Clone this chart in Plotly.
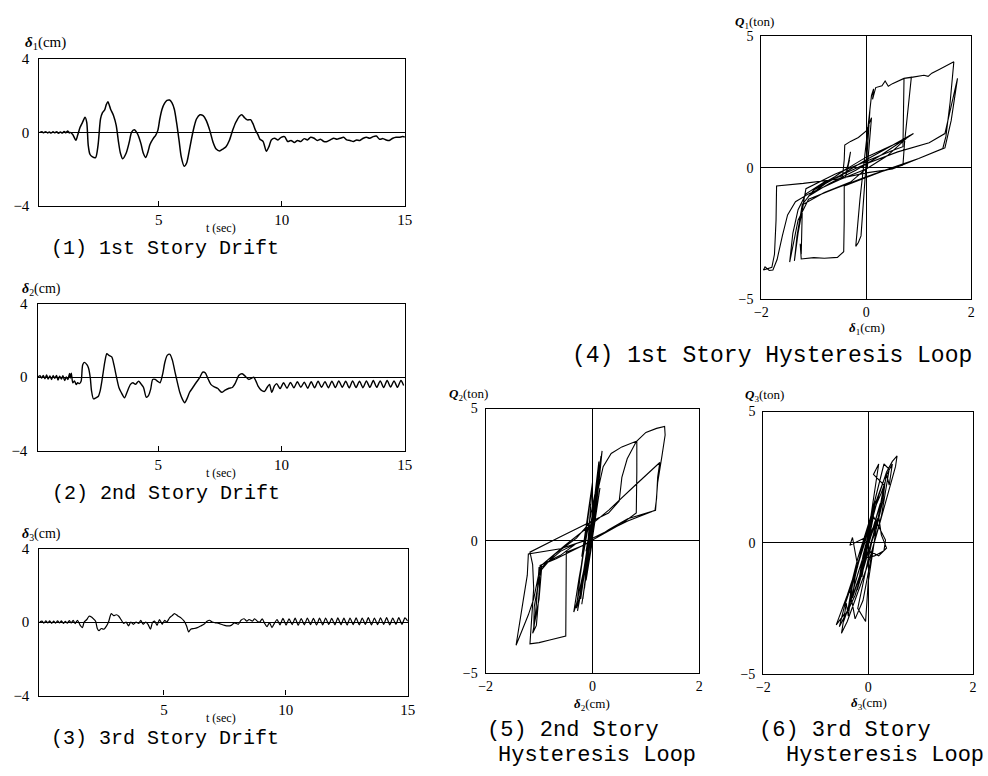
import plotly.graph_objects as go

# ---------------- data: story drift time histories ----------------
t1 = [0.15,0.25,0.32,0.4,0.48,0.55,0.62,0.7,0.78,0.85,0.92,1.0,1.08,1.15,1.22,1.3,1.36,1.4,1.5,1.63,1.7,1.8,1.89,2.0,2.07,2.13,2.2,2.29,2.43,2.53,2.63,2.71,2.8,2.87,2.93,3.04,3.16,3.27,3.36,3.44,3.53,3.67,3.8,3.89,4.0,4.13,4.27,4.37,4.47,4.56,4.64,4.77,4.87,4.96,5.04,5.13,5.23,5.33,5.44,5.53,5.63,5.73,5.83,5.91,6.03,6.13,6.23,6.33,6.43,6.53,6.67,6.8,6.93,7.07,7.2,7.33,7.47,7.6,7.73,7.87,8.0,8.13,8.27,8.37,8.47,8.6,8.73,8.83,8.93,9.04,9.11,9.24,9.37,9.48,9.57,9.71,9.84,9.97,10.11,10.24,10.37,10.51,10.64,10.77,10.91,11.04,11.17,11.31,11.44,11.57,11.71,11.84,11.97,12.11,12.24,12.37,12.51,12.64,12.77,12.91,13.04,13.17,13.31,13.44,13.57,13.71,13.84,13.97,14.11,14.24,14.37,14.51,14.64,14.77,14.91,15.0]
d1 = [0.0,0.03,-0.02,0.04,-0.03,0.02,-0.04,0.03,-0.02,0.04,-0.05,0.02,-0.04,0.05,-0.02,0.08,-0.03,0.0,-0.12,-0.43,-0.16,0.28,0.52,0.82,0.55,-0.69,-1.19,-1.32,-1.37,-0.69,0.73,1.08,1.23,1.53,1.67,1.26,0.91,0.37,-0.52,-1.14,-1.44,-1.14,-0.52,0.0,0.14,-0.07,-0.6,-1.14,-1.37,-1.05,-0.66,-0.34,-0.16,0.11,0.73,1.26,1.58,1.74,1.76,1.62,1.26,0.46,-0.52,-1.32,-1.85,-1.67,-1.05,-0.34,0.28,0.73,0.96,0.91,0.64,0.11,-0.52,-0.91,-1.01,-0.91,-0.78,-0.43,0.11,0.55,0.87,0.96,0.82,0.68,0.69,0.46,0.11,-0.16,-0.37,-0.5,-1.03,-0.76,-0.41,-0.32,-0.41,-0.27,-0.23,-0.5,-0.44,-0.55,-0.44,-0.5,-0.34,-0.41,-0.27,-0.32,-0.44,-0.37,-0.5,-0.5,-0.41,-0.32,-0.37,-0.32,-0.27,-0.41,-0.44,-0.5,-0.41,-0.44,-0.32,-0.27,-0.32,-0.23,-0.2,-0.37,-0.34,-0.41,-0.44,-0.32,-0.27,-0.27,-0.23,-0.25]

t2 = [0.1,0.2,0.27,0.33,0.4,0.47,0.53,0.6,0.67,0.73,0.8,0.87,0.93,1.0,1.07,1.13,1.2,1.27,1.33,1.4,1.43,1.47,1.53,1.6,1.67,1.73,1.8,1.87,1.93,2.0,2.11,2.17,2.24,2.29,2.37,2.47,2.56,2.64,2.73,2.83,2.91,3.0,3.11,3.2,3.31,3.4,3.49,3.63,3.73,3.87,3.97,4.07,4.2,4.29,4.4,4.51,4.6,4.69,4.77,4.87,4.96,5.07,5.17,5.27,5.36,5.47,5.57,5.67,5.76,5.87,5.97,6.07,6.16,6.27,6.4,6.53,6.67,6.8,6.91,7.0,7.13,7.27,7.4,7.57,7.71,7.87,8.0,8.13,8.27,8.4,8.53,8.67,8.8,8.87,8.96,9.04,9.17,9.31,9.41,9.51,9.6,9.71,9.8,9.94,10.08,10.22,10.36,10.5,10.64,10.78,10.92,11.06,11.2,11.34,11.48,11.62,11.76,11.9,12.04,12.18,12.32,12.46,12.6,12.74,12.88,13.02,13.16,13.3,13.44,13.58,13.72,13.86,14.0,14.14,14.28,14.42,14.56,14.7,14.84,14.95]
d2 = [0.0,0.08,-0.05,0.1,-0.08,0.12,-0.1,0.07,-0.12,0.09,-0.06,0.1,-0.15,0.05,-0.1,0.08,-0.18,0.02,-0.12,0.2,-0.05,0.22,-0.3,-0.2,-0.4,-0.3,-0.35,-0.2,0.67,0.81,0.67,0.49,-0.04,-0.74,-1.18,-1.12,-1.05,-0.74,-0.04,0.84,1.28,1.19,1.11,0.67,-0.04,-0.56,-0.82,-1.12,-0.82,-0.39,-0.3,-0.39,-0.21,-0.35,-0.56,-1.09,-1.0,-0.65,-0.12,-0.12,-0.21,-0.3,0.14,0.84,1.19,1.25,0.93,0.32,-0.21,-0.82,-1.18,-1.39,-1.18,-0.82,-0.56,-0.3,-0.04,0.28,0.23,-0.04,-0.39,-0.53,-0.6,-0.82,-0.7,-0.6,-0.56,-0.3,0.11,0.19,0.05,-0.12,-0.04,0.0,-0.21,-0.47,-0.7,-0.77,-0.56,-0.39,-0.82,-0.47,-0.35,-0.62,-0.3,-0.6,-0.28,-0.58,-0.25,-0.55,-0.27,-0.6,-0.25,-0.58,-0.22,-0.55,-0.24,-0.57,-0.22,-0.56,-0.2,-0.55,-0.22,-0.58,-0.2,-0.56,-0.22,-0.57,-0.2,-0.55,-0.18,-0.55,-0.2,-0.56,-0.18,-0.54,-0.2,-0.55,-0.18,-0.45]

t3 = [-0.1,0.0,0.08,0.16,0.24,0.32,0.4,0.48,0.56,0.64,0.72,0.8,0.88,0.96,1.04,1.12,1.2,1.28,1.36,1.46,1.57,1.66,1.73,1.84,1.93,2.03,2.11,2.2,2.27,2.34,2.43,2.54,2.65,2.74,2.84,2.94,3.05,3.15,3.24,3.35,3.45,3.55,3.64,3.75,3.86,3.97,4.05,4.15,4.26,4.35,4.45,4.53,4.62,4.72,4.82,4.93,5.03,5.12,5.23,5.34,5.43,5.56,5.7,5.83,5.93,6.01,6.1,6.24,6.37,6.51,6.64,6.77,6.87,6.98,7.11,7.25,7.35,7.49,7.62,7.76,7.89,8.05,8.16,8.29,8.4,8.49,8.63,8.72,8.83,8.93,9.03,9.13,9.23,9.33,9.43,9.53,9.64,9.76,9.88,10.01,10.13,10.26,10.38,10.51,10.63,10.76,10.88,11.01,11.13,11.26,11.38,11.51,11.63,11.76,11.88,12.01,12.13,12.26,12.38,12.51,12.63,12.76,12.88,13.01,13.13,13.26,13.38,13.51,13.63,13.76,13.88,14.01,14.13,14.26,14.38,14.51,14.63,14.76,14.88,15.0]
d3 = [0.0,0.05,-0.06,0.07,-0.05,0.06,-0.07,0.05,-0.06,0.07,-0.05,0.06,-0.07,0.04,-0.06,0.08,-0.05,0.1,-0.08,0.1,-0.18,-0.3,0.0,0.14,0.32,0.28,0.18,0.05,-0.35,-0.47,-0.35,-0.39,-0.21,0.05,0.46,0.35,0.4,0.32,0.14,-0.07,0.0,-0.21,0.0,-0.12,0.0,-0.07,0.1,-0.12,0.0,-0.12,-0.39,-0.03,0.05,-0.18,0.14,-0.12,0.1,0.0,0.23,0.35,0.46,0.35,0.23,0.05,-0.21,-0.53,-0.39,-0.35,-0.3,-0.21,-0.12,0.05,0.1,0.0,-0.04,-0.07,-0.12,-0.18,-0.21,-0.18,-0.04,-0.12,0.1,0.18,0.05,0.14,0.05,0.18,0.05,0.0,0.18,-0.07,-0.25,-0.03,-0.3,-0.07,0.14,-0.15,0.2,-0.16,0.18,-0.14,0.21,-0.17,0.19,-0.15,0.22,-0.14,0.2,-0.16,0.21,-0.15,0.22,-0.13,0.2,-0.15,0.23,-0.14,0.21,-0.16,0.22,-0.14,0.23,-0.15,0.22,-0.13,0.24,-0.15,0.22,-0.14,0.23,-0.13,0.24,-0.15,0.22,-0.12,0.24,-0.13,0.23,0.05]

# ---------------- data: hysteresis loops (delta [cm], Q [ton]) ----------------
delta1 = [0.0,0.02,-0.02,0.03,-0.03,0.05,-0.06,0.06,-0.04,0.04,-0.08,0.07,-0.1,-0.15,-0.2,-0.12,-0.02,0.06,0.1,0.14,0.12,0.18,0.3,0.36,0.42,0.5,0.6,0.72,0.86,
          0.8,0.73,0.7,0.3,-0.1,-0.42,-0.42,-0.43,-0.55,-0.8,-1.0,-1.24,-1.26,-1.24,
          -1.22,-1.15,-0.6,0.0,0.5,0.7,0.71,0.72,0.89,1.0,1.1,1.18,1.25,1.4,1.55,1.67,
          1.6,1.52,1.46,1.0,0.5,0.0,-0.6,-1.1,-1.3,-1.4,-1.46,
          -1.4,-1.3,-1.15,-0.8,-0.45,-0.42,-0.41,-0.3,-0.15,0.0,0.1,
          0.06,0.02,-0.3,-0.8,-1.2,-1.3,-1.37,
          -1.32,-1.22,-1.0,-0.5,0.0,0.6,1.2,1.5,1.6,1.7,1.74,
          1.62,1.5,1.0,0.5,0.0,-0.6,-1.2,-1.71,-1.72,-1.75,-1.8,-1.9,-1.96,-1.93,-1.85,-1.78,
          -1.7,-1.6,-1.5,-1.35,-1.1,-0.5,0.0,0.4,0.83,
          0.6,0.0,-0.5,-1.11,-0.7,-0.2,0.3,0.9,0.5,0.0,-0.5,-1.0,
          -0.6,-0.35,-0.3,-0.4,-0.32,-0.38]
Q1 = [0.0,0.6,-0.5,0.9,-0.8,1.6,-1.7,2.0,-1.0,1.3,-2.4,2.2,-2.6,-2.85,-3.0,-1.2,0.6,2.0,2.75,3.0,2.6,3.05,3.12,3.3,3.1,3.2,3.3,3.4,3.45,
      2.3,0.95,0.1,-0.15,-0.45,-0.7,-2.0,-3.2,-3.42,-3.45,-3.43,-3.48,-2.9,-3.3,
      -1.6,-0.8,-0.25,0.25,0.65,0.8,2.0,3.4,3.45,3.5,3.52,3.48,3.6,3.75,3.92,4.03,
      2.5,1.2,0.73,0.35,0.0,-0.35,-0.8,-1.2,-2.0,-3.0,-3.6,
      -2.5,-1.6,-1.0,-0.55,-0.3,0.3,0.86,1.0,1.15,1.4,1.9,
      0.8,0.0,-0.55,-0.95,-1.4,-2.5,-3.55,
      -2.6,-1.4,-0.85,-0.3,0.15,0.6,0.95,1.3,2.2,3.0,3.4,
      1.8,0.75,0.35,-0.05,-0.2,-0.45,-0.6,-0.7,-2.0,-3.3,-3.8,-3.85,-3.9,-3.78,-3.92,-3.9,
      -3.5,-2.6,-1.8,-1.3,-1.0,-0.45,-0.05,0.45,1.23,
      0.95,0.4,-0.2,-1.1,-0.6,-0.1,0.5,1.3,0.85,0.3,-0.3,-0.8,
      -0.35,0.0,0.6,-0.4,0.3,-0.1]

delta2 = [0.0,0.05,-0.08,0.1,-0.12,0.14,-0.2,0.06,-0.28,0.12,-0.22,0.16,-0.1,
          0.0,0.1,0.2,0.35,0.55,0.75,0.83,
          0.83,0.82,0.55,0.2,-0.2,-0.49,-0.49,-0.5,-0.8,-1.0,-1.17,
          -1.14,-1.1,-1.12,-1.17,-0.6,-0.06,0.3,0.5,0.55,0.65,0.82,1.0,1.2,1.35,
          1.36,1.3,1.22,1.18,0.66,0.31,-0.06,-0.68,-0.98,-1.0,-1.05,-1.12,
          -1.0,-0.95,-0.6,-0.3,-0.6,-0.95,-1.09,-1.1,
          -1.05,-1.0,-0.5,0.0,0.31,0.8,1.26,
          1.22,1.2,1.17,0.66,0.0,-0.6,-1.2,-1.22,-1.3,-1.35,-1.38,-1.43,
          -1.3,-1.2,-1.1,-1.0,-0.7,-0.3,0.0,0.1,0.16,0.18,
          0.1,0.0,-0.15,-0.3,-0.35,-0.25,-0.1,0.05,0.12,0.05,-0.1,-0.2,-0.3,
          -0.2,-0.1,-0.25,-0.08,-0.22,-0.05,-0.2,0.0,-0.15,0.1,-0.18,0.05,-0.12]
Q2 = [0.0,0.7,-1.0,1.5,-1.5,2.0,-2.4,1.0,-2.65,2.6,-2.2,3.2,-0.6,
      0.6,1.9,2.8,3.3,3.55,3.7,3.77,
      2.6,1.05,0.65,0.25,-0.2,-0.43,-2.0,-3.6,-3.75,-3.85,-3.9,
      -3.0,-1.8,-0.9,-0.43,0.15,0.68,1.05,1.5,2.4,3.1,3.75,4.1,4.25,4.32,
      4.0,3.2,2.2,1.15,0.83,0.43,-0.06,-0.68,-0.93,-2.0,-3.2,-3.5,
      -2.2,-1.0,-0.4,-0.1,-0.55,-0.9,-2.5,-3.4,
      -2.4,-1.0,-0.15,0.65,1.17,2.1,2.96,
      2.4,1.6,1.15,0.75,0.1,-0.3,-0.5,-1.3,-2.3,-3.0,-3.4,-3.95,
      -3.3,-2.8,-2.2,-1.2,-0.5,0.1,0.8,2.0,3.1,3.4,
      1.8,0.3,-1.0,-2.4,-2.7,-1.4,0.3,1.8,3.0,1.2,-0.5,-1.8,-2.55,
      -0.8,0.5,-1.6,0.9,-1.2,1.4,-0.6,2.2,-1.8,2.6,-2.2,1.6,-0.4]

delta3 = [0.0,0.04,-0.04,0.07,-0.06,0.09,-0.08,0.1,-0.1,0.06,
          -0.15,-0.3,-0.25,-0.1,0.1,0.25,0.32,0.28,
          0.15,-0.1,-0.3,-0.47,-0.42,-0.38,
          -0.3,-0.1,0.1,0.3,0.46,0.4,0.35,
          0.2,0.0,-0.21,-0.1,0.05,-0.12,0.1,-0.07,
          -0.25,-0.39,-0.3,-0.05,0.14,-0.12,0.1,
          0.0,0.2,0.35,0.46,0.55,0.52,
          0.4,0.2,0.0,-0.25,-0.4,-0.51,-0.45,-0.61,
          -0.4,-0.2,0.0,0.1,0.33,0.3,0.12,-0.1,0.15,
          -0.2,-0.05,0.0,0.15,0.3,0.1,0.2,0.05,-0.2,-0.35,-0.25,-0.1,0.1,0.25,0.4,0.3,0.15,-0.05,-0.35,-0.3,-0.2,-0.45,-0.55,-0.4,-0.2,0.05,0.2,0.25,0.35,0.2,0.0,
          -0.15,0.22,-0.14,0.2,-0.16,0.23,-0.13,0.21,-0.15,0.0]
Q3 = [0.0,0.4,-0.3,0.7,-0.6,0.9,-0.7,1.0,-0.9,0.5,
      -1.2,-2.1,-1.3,0.0,1.2,1.9,2.3,1.6,
      0.5,-0.9,-2.0,-3.0,-2.3,-2.8,
      -1.6,-0.2,1.3,2.4,3.0,2.2,2.6,
      1.0,-0.4,-1.8,-0.5,0.7,-1.3,1.3,-0.8,
      -2.0,-2.6,-1.5,0.1,1.6,-1.0,1.5,
      0.3,1.8,2.7,3.1,3.31,2.9,
      2.0,0.6,-0.8,-2.2,-3.0,-3.45,-2.7,-3.13,
      -2.0,-0.8,0.5,1.0,0.1,-0.3,-0.5,-0.6,0.8,
      -2.5,-3.0,-1.5,0.5,2.2,2.6,3.0,1.0,-0.6,-1.8,-2.9,-2.2,-0.1,1.0,2.8,3.0,1.8,0.2,-0.1,0.2,-0.9,-2.4,-3.2,-2.6,-1.2,0.4,1.0,0.3,-0.2,-0.5,-0.3,
      -1.1,1.4,-1.0,1.2,-1.2,1.5,-0.9,1.3,-1.1,0.0]

# ---------------- layout helpers (pixel geometry of the 988x776 page) ----------------
W, H = 988, 776
def fx(p): return p / W
def fy(p): return 1 - p / H

SERIF = "Liberation Serif"
MONO = "Liberation Mono"

fig = go.Figure()

fig.add_trace(go.Scatter(x=t1, y=d1, mode="lines", line=dict(color="black", width=1.5, shape="spline", smoothing=0.7), xaxis="x", yaxis="y", showlegend=False))
fig.add_trace(go.Scatter(x=t2, y=d2, mode="lines", line=dict(color="black", width=1.4, shape="spline", smoothing=0.7), xaxis="x2", yaxis="y2", showlegend=False))
fig.add_trace(go.Scatter(x=t3, y=d3, mode="lines", line=dict(color="black", width=1.2, shape="spline", smoothing=0.6), xaxis="x3", yaxis="y3", showlegend=False))
fig.add_trace(go.Scatter(x=delta1, y=Q1, mode="lines", line=dict(color="black", width=1.1), xaxis="x4", yaxis="y4", showlegend=False))
fig.add_trace(go.Scatter(x=delta2, y=Q2, mode="lines", line=dict(color="black", width=1.1), xaxis="x5", yaxis="y5", showlegend=False))
fig.add_trace(go.Scatter(x=delta3, y=Q3, mode="lines", line=dict(color="black", width=1.1), xaxis="x6", yaxis="y6", showlegend=False))

def time_axes(xdom, ydom, xr, anchor_x, anchor_y):
    xa = dict(domain=[fx(xdom[0]), fx(xdom[1])], range=xr, anchor=anchor_y,
              showline=True, mirror=True, linecolor="black", linewidth=1.3,
              showgrid=False, zeroline=False,
              tickmode="array", tickvals=[5, 10, 15], ticktext=["5", "10", "15"],
              ticks="inside", ticklen=5, tickcolor="black",
              tickfont=dict(family=SERIF, size=15, color="black"))
    ya = dict(domain=[fy(ydom[1]), fy(ydom[0])], range=[-4, 4], anchor=anchor_x,
              showline=True, mirror=True, linecolor="black", linewidth=1.3,
              showgrid=False, zeroline=True, zerolinecolor="black", zerolinewidth=1,
              tickmode="array", tickvals=[-4, 0, 4], ticktext=["\u22124", "0", "4"],
              ticks="", ticklen=0, ticklabelstandoff=6,
              tickfont=dict(family=SERIF, size=15, color="black"))
    return xa, ya

def hyst_axes(xdom, ydom, anchor_x, anchor_y):
    xa = dict(domain=[fx(xdom[0]), fx(xdom[1])], range=[-2, 2], anchor=anchor_y,
              showline=True, mirror=True, linecolor="black", linewidth=1.3,
              showgrid=False, zeroline=True, zerolinecolor="black", zerolinewidth=1,
              tickmode="array", tickvals=[-2, 0, 2], ticktext=["\u22122", "0", "2"],
              ticks="", tickfont=dict(family=SERIF, size=14, color="black"))
    ya = dict(domain=[fy(ydom[1]), fy(ydom[0])], range=[-5, 5], anchor=anchor_x,
              showline=True, mirror=True, linecolor="black", linewidth=1.3,
              showgrid=False, zeroline=True, zerolinecolor="black", zerolinewidth=1,
              tickmode="array", tickvals=[-5, 0, 5], ticktext=["\u22125", "0", "5"],
              ticks="", ticklabelstandoff=4,
              tickfont=dict(family=SERIF, size=14, color="black"))
    return xa, ya

x1, y1 = time_axes((33, 404), (52, 202), [0.15, 15], "x", "y")
x2, y2 = time_axes((31, 404), (302, 452), [0.1, 15], "x2", "y2")
x3, y3 = time_axes((33, 407), (552, 702), [-0.1, 15], "x3", "y3")
x4, y4 = hyst_axes((766, 979), (29, 297), "x4", "y4")
x5, y5 = hyst_axes((486, 703), (409, 679), "x5", "y5")
x6, y6 = hyst_axes((768, 981), (412, 680), "x6", "y6")

ann = []
def txt(text, x, y, size, family=SERIF, xanchor="center"):
    ann.append(dict(text=text, x=fx(x), y=fy(y), xref="paper", yref="paper",
                    showarrow=False, xanchor=xanchor, yanchor="middle",
                    font=dict(family=family, size=size, color="black")))

# axis titles
txt("<b><i>δ</i></b><sub>1</sub>(cm)", 16, 36, 15, xanchor="left")
txt("<b><i>δ</i></b><sub>2</sub>(cm)", 13, 287, 14, xanchor="left")
txt("<b><i>δ</i></b><sub>3</sub>(cm)", 13, 538, 14, xanchor="left")
txt("t (sec)", 217, 225, 12)
txt("t (sec)", 217, 475, 12)
txt("t (sec)", 217, 725, 12)
txt("<b><i>Q</i></b><sub>1</sub>(ton)", 737, 15, 13, xanchor="left")
txt("<b><i>Q</i></b><sub>2</sub>(ton)", 447, 395, 13, xanchor="left")
txt("<b><i>Q</i></b><sub>3</sub>(ton)", 747, 396, 13, xanchor="left")
txt("<b><i>δ</i></b><sub>1</sub>(cm)", 873, 327, 13)
txt("<b><i>δ</i></b><sub>2</sub>(cm)", 594, 711, 13)
txt("<b><i>δ</i></b><sub>3</sub>(cm)", 875, 710, 13)

# panel captions
txt("(1) 1st Story Drift", 160, 246, 20, family=MONO)
txt("(2) 2nd Story Drift", 161, 496, 20, family=MONO)
txt("(3) 3rd Story Drift", 160, 746, 20, family=MONO)
txt("(4) 1st Story Hysteresis Loop", 777, 355, 23, family=MONO)
txt("(5) 2nd Story", 485, 738, 22, family=MONO, xanchor="left")
txt("Hysteresis Loop", 497, 763, 22, family=MONO, xanchor="left")
txt("(6) 3rd Story", 762, 738, 22, family=MONO, xanchor="left")
txt("Hysteresis Loop", 789, 763, 22, family=MONO, xanchor="left")

fig.update_layout(
    width=W, height=H,
    margin=dict(l=0, r=0, t=0, b=0),
    paper_bgcolor="white", plot_bgcolor="white",
    showlegend=False,
    xaxis=x1, yaxis=y1, xaxis2=x2, yaxis2=y2, xaxis3=x3, yaxis3=y3,
    xaxis4=x4, yaxis4=y4, xaxis5=x5, yaxis5=y5, xaxis6=x6, yaxis6=y6,
    annotations=ann,
)

fig.write_html("out.html")
